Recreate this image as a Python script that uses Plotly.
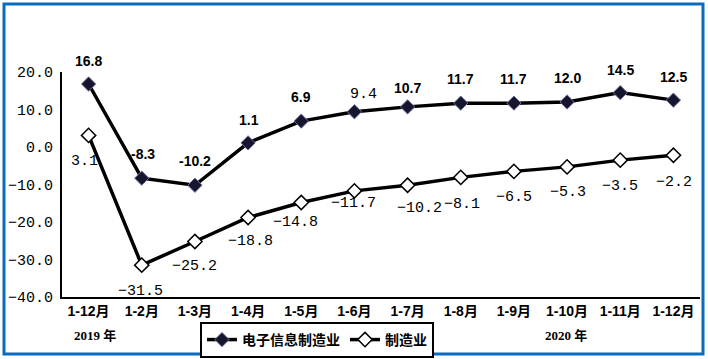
import plotly.graph_objects as go

categories = ["1-12月", "1-2月", "1-3月", "1-4月", "1-5月", "1-6月", "1-7月",
              "1-8月", "1-9月", "1-10月", "1-11月", "1-12月"]
x_keys = list(range(len(categories)))
electronic = [16.8, -8.3, -10.2, 1.1, 6.9, 9.4, 10.7, 11.7, 11.7, 12.0, 14.5, 12.5]
manufacturing = [3.1, -31.5, -25.2, -18.8, -14.8, -11.7, -10.2, -8.1, -6.5, -5.3, -3.5, -2.2]
series_names = ["电子信息制造业", "制造业"]
y_ticks = [20, 10, 0, -10, -20, -30, -40]
year_labels = ["2019 年", "2020 年"]

# label offsets (pixels) - styling only
elec_dx = [0, 1, 0, 1, 0, 9, 0, 0, 0, 0, 0, 0]
elec_dy = [23, 24, 24, 23, 24, 17, 19, 24, 24, 24, 23, 23]
manu_dx = [-4, -1, 0, 2, -6, -1, 12, 1, 0, 1, 0, 1]
manu_dy = [-26, -26, -25, -24, -20, -13, -23, -27, -26, -26, -26, -27]

fig = go.Figure()
fig.add_trace(go.Scatter(
    x=x_keys, y=electronic, mode="lines+markers", name=series_names[0],
    line=dict(color="black", width=3.5),
    marker=dict(symbol="diamond", size=11, color="#15152e",
                line=dict(color="#7070a0", width=1)),
))
fig.add_trace(go.Scatter(
    x=x_keys, y=manufacturing, mode="lines+markers", name=series_names[1],
    line=dict(color="black", width=3.5),
    marker=dict(symbol="diamond", size=11, color="white",
                line=dict(color="black", width=1.5)),
))

def fmt(v, minus="−"):
    s = f"{abs(v):.1f}"
    return (minus + s) if v < 0 else s

annotations = []
for i, v in enumerate(electronic):
    fam = "Liberation Mono" if i == 5 else "Liberation Sans"
    txt = fmt(v, "-")
    annotations.append(dict(
        x=x_keys[i], y=v, xref="x", yref="y", text=txt, showarrow=False,
        xshift=elec_dx[i], yshift=elec_dy[i],
        font=dict(family=fam, size=14 if i != 5 else 15, color="black",
                  weight="bold" if i != 5 else "normal"),
    ))
for i, v in enumerate(manufacturing):
    annotations.append(dict(
        x=x_keys[i], y=v, xref="x", yref="y", text=fmt(v), showarrow=False,
        xshift=manu_dx[i], yshift=manu_dy[i],
        font=dict(family="Liberation Mono", size=15, color="black"),
    ))
for label, px in zip(year_labels, [0.0517, 0.790]):
    annotations.append(dict(x=px, y=-0.169, xref="paper", yref="paper",
                            xanchor="center", yanchor="middle",
                            text=label, showarrow=False,
                            font=dict(family="Liberation Serif, Noto Sans CJK SC", size=13,
                                      color="black", weight="bold")))

fig.update_layout(
    width=708, height=359,
    margin=dict(l=62, r=8, t=72, b=62, autoexpand=False),
    paper_bgcolor="white", plot_bgcolor="white",
    showlegend=True,
    legend=dict(orientation="h", x=0.2163, y=-0.111, xanchor="left", yanchor="top",
                bgcolor="white", bordercolor="black", borderwidth=2,
                font=dict(family="Noto Sans CJK SC", size=14, color="black", weight="bold"),
                itemwidth=30, tracegroupgap=0),
    annotations=annotations,
    shapes=[dict(type="rect", xref="paper", yref="paper",
                 x0=-0.0909, x1=1.0047, y0=-0.2533, y1=1.3022,
                 line=dict(color="#0A6CC0", width=3), fillcolor="rgba(0,0,0,0)",
                 layer="above")],
)
fig.update_xaxes(
    range=[-0.5, 11.5], tickmode="array", tickvals=x_keys, ticktext=categories,
    showline=True, linecolor="black", linewidth=2, showgrid=False, zeroline=False,
    ticks="", tickfont=dict(family="Liberation Sans, Noto Sans CJK SC", size=14,
                            color="black", weight="bold"),
)
fig.update_yaxes(
    range=[-40, 20], tickmode="array", tickvals=y_ticks, tickformat=".1f",
    showline=True, linecolor="black", linewidth=2, showgrid=False, zeroline=False,
    ticks="", ticklabelstandoff=4,
    tickfont=dict(family="Liberation Mono", size=15, color="black"),
)

fig.write_html("out.html", config={"displayModeBar": False},
               post_script="document.body.style.margin='0';document.body.style.overflow='hidden';")
